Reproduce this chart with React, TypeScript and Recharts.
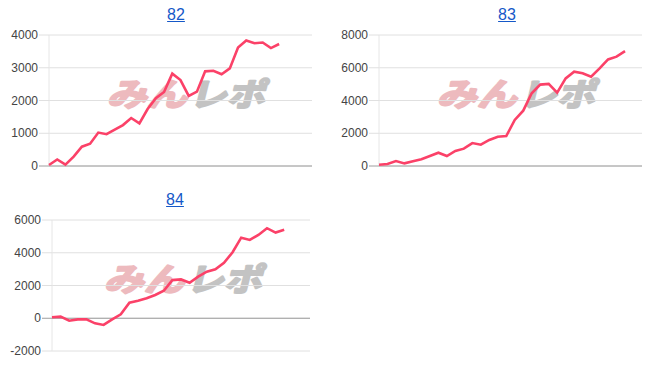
import React from "react";
import { LineChart, Line, XAxis, YAxis, CartesianGrid, ReferenceLine } from "recharts";

const titles = ["82", "83", "84"];
const values82 = [30, 200, 40, 285, 590, 680, 1020, 970, 1110, 1250, 1465, 1300, 1740, 2070, 2260, 2820, 2625, 2140, 2270, 2890, 2910, 2800, 2980, 3620, 3830, 3750, 3770, 3600, 3725];
const values83 = [80, 120, 300, 160, 290, 410, 610, 810, 610, 920, 1060, 1400, 1300, 1590, 1790, 1830, 2810, 3380, 4440, 4970, 5010, 4480, 5350, 5760, 5660, 5450, 5960, 6510, 6680, 7020];
const values84 = [60, 100, -150, -70, -70, -310, -410, -70, 240, 950, 1070, 1220, 1420, 1680, 2330, 2370, 2170, 2540, 2840, 2990, 3390, 4030, 4920, 4780, 5090, 5500, 5230, 5400];
const ticks82 = [0, 1000, 2000, 3000, 4000];
const ticks83 = [0, 2000, 4000, 6000, 8000];
const ticks84 = [-2000, 0, 2000, 4000, 6000];
const xMax82 = 32;
const xMax83 = 31;
const xMax84 = 30;

const FONT = "Arial, 'Liberation Sans', sans-serif";

function toData(vals: number[]) {
  return vals.map((v, i) => ({ x: i, v }));
}

const makeTick = (props: any) => {
  const { x, y, payload } = props;
  const isZero = payload.value === 0;
  return (
    <g>
      <line x1={x + 1} x2={x + 11} y1={y} y2={y} stroke={isZero ? "#9e9e9e" : "#e0e0e0"} strokeWidth={1} />
      <text x={x} y={y} dy={4} textAnchor="end" fontSize={12} fill="#444" fontFamily={FONT}>
        {payload.value}
      </text>
    </g>
  );
};

function Watermark({ left, top }: { left: number; top: number }) {
  const common = {
    fontSize: 32,
    fontWeight: 700,
    fontFamily: "'Noto Sans CJK JP', sans-serif",
    lengthAdjust: "spacingAndGlyphs" as const,
    strokeWidth: 2.2,
    strokeLinejoin: "round" as const,
  };
  return (
    <svg
      width={190}
      height={46}
      style={{ position: "absolute", left, top, pointerEvents: "none", overflow: "visible" }}
    >
      <g transform="skewX(-14) translate(8,0)" opacity={0.9}>
        <text x={4} y={36} fill="#ecb3b8" stroke="#ecb3b8" textLength={80} {...common}>
          みん
        </text>
        <text x={86} y={36} fill="#bdbdbd" stroke="#bdbdbd" textLength={76} {...common}>
          レポ
        </text>
      </g>
    </svg>
  );
}

function MiniChart({
  title,
  values,
  ticks,
  xMax,
  left,
  top,
  yWidth,
  rightMargin,
  titleCenter,
  wmLeft,
}: {
  title: string;
  values: number[];
  ticks: number[];
  xMax: number;
  left: number;
  top: number;
  yWidth: number;
  rightMargin: number;
  titleCenter: number;
  wmLeft: number;
}) {
  const data = toData(values);
  return (
    <div style={{ position: "absolute", left, top, width: 320, height: 180 }}>
      <div
        style={{
          position: "absolute",
          left: 0,
          top: 6,
          width: titleCenter * 2,
          textAlign: "center",
          fontFamily: FONT,
          fontSize: 16,
          lineHeight: "18px",
        }}
      >
        <a href="#" style={{ color: "#1558c8", textDecoration: "underline" }}>
          {title}
        </a>
      </div>
      <Watermark left={wmLeft} top={70} />
      <div style={{ position: "absolute", left: 0, top: 0 }}>
        <LineChart
          width={320}
          height={180}
          data={data}
          margin={{ top: 35, right: rightMargin, bottom: 14, left: 0 }}
        >
          <CartesianGrid horizontal={true} vertical={false} stroke="#e0e0e0" />
          <XAxis dataKey="x" type="number" domain={[0, xMax]} hide />
          <YAxis
            width={yWidth}
            domain={[ticks[0], ticks[ticks.length - 1]]}
            ticks={ticks}
            axisLine={false}
            tickLine={false}
            tickSize={10}
            tickMargin={1}
            tick={makeTick}
            interval={0}
          />
          <ReferenceLine x={0} stroke="#e6e6e6" />
          <ReferenceLine y={0} stroke="#9e9e9e" />
          <Line
            type="linear"
            dataKey="v"
            stroke="#fb4168"
            strokeWidth={2.6}
            dot={false}
            isAnimationActive={false}
          />
        </LineChart>
      </div>
    </div>
  );
}

export default function App() {
  return (
    <div style={{ position: "absolute", left: 0, top: 0, width: 655, height: 365, background: "#fff" }}>
      <MiniChart
        title={titles[0]}
        values={values82}
        ticks={ticks82}
        xMax={xMax82}
        left={0}
        top={0}
        yWidth={49}
        rightMargin={8}
        titleCenter={176}
        wmLeft={104}
      />
      <MiniChart
        title={titles[1]}
        values={values83}
        ticks={ticks83}
        xMax={xMax83}
        left={330}
        top={0}
        yWidth={49}
        rightMargin={8}
        titleCenter={177}
        wmLeft={104}
      />
      <MiniChart
        title={titles[2]}
        values={values84}
        ticks={ticks84}
        xMax={xMax84}
        left={0}
        top={185}
        yWidth={52}
        rightMargin={10}
        titleCenter={175}
        wmLeft={101}
      />
    </div>
  );
}
